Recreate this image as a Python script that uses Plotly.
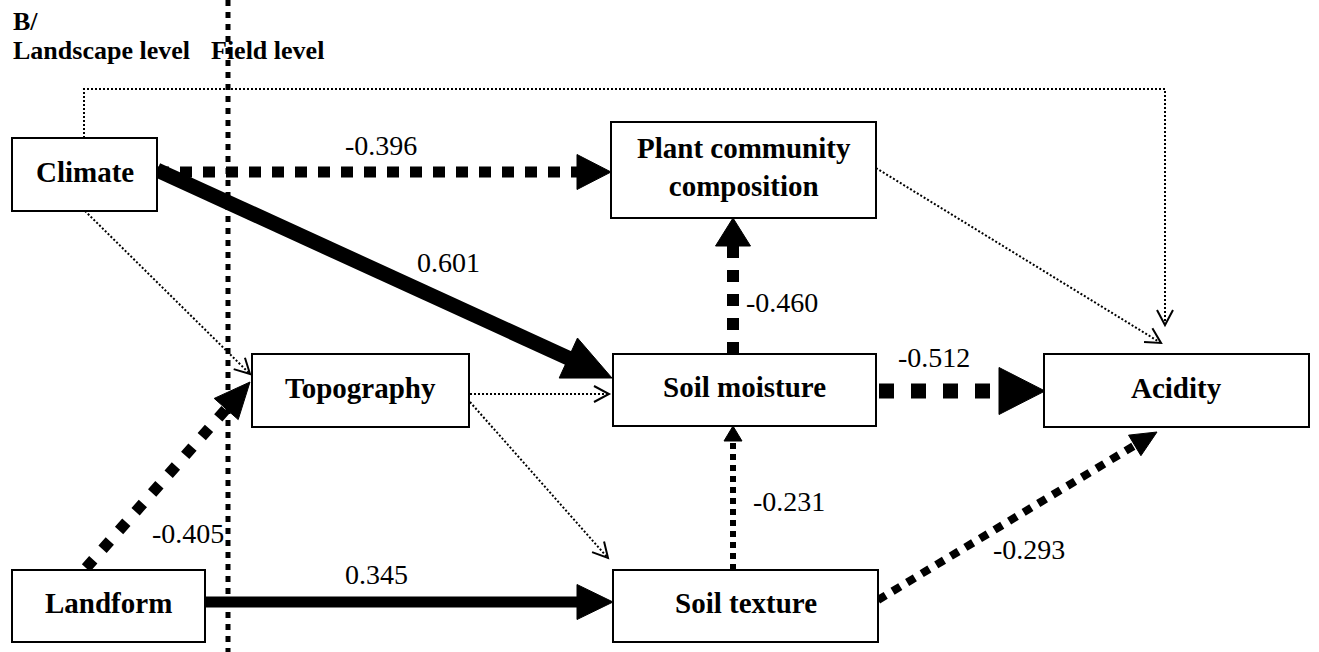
import math
import plotly.graph_objects as go

# ---------------- data ----------------
node_names = ["Climate", "Landform", "Topography", "Plant community<br>composition",
              "Soil moisture", "Soil texture", "Acidity"]
edge_source = ["Climate", "Climate", "Climate", "Climate", "Landform", "Landform",
               "Topography", "Topography", "Plant community<br>composition",
               "Soil moisture", "Soil moisture", "Soil texture", "Soil texture"]
edge_target = ["Plant community<br>composition", "Soil moisture", "Topography", "Acidity",
               "Topography", "Soil texture", "Soil moisture", "Soil texture", "Acidity",
               "Plant community<br>composition", "Acidity", "Soil moisture", "Acidity"]
edge_coef = ["-0.396", "0.601", None, None, "-0.405", "0.345", None, None, None,
             "-0.460", "-0.512", "-0.231", "-0.293"]
header_labels = ["B/", "Landscape level", "Field level"]

# ---------------- layout geometry (pixel space) ----------------
W, H = 1319, 652
FONT = "Liberation Serif"
box_geom = {
    "Climate": (12, 138, 157, 211),
    "Landform": (12, 570, 205, 642),
    "Topography": (252, 354, 469, 427),
    "Plant community<br>composition": (611, 122, 876, 218),
    "Soil moisture": (613, 354, 876, 426),
    "Soil texture": (613, 570, 878, 642),
    "Acidity": (1044, 354, 1309, 427),
}
# per-edge path, line style, head style, label position
edge_geom = [
    dict(pts=[(157, 172), (611, 172)], w=11, dash="12px,11px", head="fill", hl=34, hw=35, lab=(381, 145)),
    dict(pts=[(157, 170), (612, 378)], w=15, dash="solid", head="fill", hl=48, hw=44, lab=(448, 262)),
    dict(pts=[(85, 211), (250, 374)], w=2, dash="2px,2px", head="open", hl=15, hw=16, lab=None),
    dict(pts=[(84, 138), (84, 89), (1165, 89), (1165, 325)], w=2, dash="2px,2px", head="open", hl=15, hw=16, lab=None),
    dict(pts=[(86, 568), (250, 382)], w=11, dash="11px,14px", head="fill", hl=36, hw=32, lab=(188, 533)),
    dict(pts=[(205, 602), (613, 602)], w=11, dash="solid", head="fill", hl=36, hw=35, lab=(376, 574)),
    dict(pts=[(470, 394), (609, 394)], w=2, dash="2px,2px", head="open", hl=15, hw=16, lab=None),
    dict(pts=[(470, 402), (608, 558)], w=2, dash="2px,2px", head="open", hl=15, hw=16, lab=None),
    dict(pts=[(876, 168), (1161, 343)], w=2, dash="2px,2px", head="open", hl=15, hw=16, lab=None),
    dict(pts=[(733, 354), (733, 218)], w=12, dash="12px,12px", head="fill", hl=28, hw=35, lab=(782, 302)),
    dict(pts=[(879, 391), (1045, 391)], w=15, dash="15px,17px", head="fill", hl=46, hw=47, lab=(934, 357)),
    dict(pts=[(733, 570), (733, 426)], w=6, dash="6px,5px", head="fill", hl=15, hw=18, lab=(789, 501)),
    dict(pts=[(878, 600), (1157, 432)], w=8, dash="9px,8px", head="fill", hl=26, hw=24, lab=(1029, 549)),
]
header_geom = [(11, 21, 26), (11, 50, 26), (209, 50, 26)]  # x, y, size
separator_x = 228

fig = go.Figure()
shapes = []
annotations = []

# level separator
shapes.append(dict(type="line", x0=separator_x, x1=separator_x, y0=0, y1=H, xref="x", yref="y",
                   line=dict(color="black", width=5, dash="6px,6px")))


def path_str(points, close=False):
    s = "M " + " L ".join(f"{x:.2f},{y:.2f}" for x, y in points)
    return s + (" Z" if close else "")


for src, tgt, coef, g in zip(edge_source, edge_target, edge_coef, edge_geom):
    pts = list(g["pts"])
    (x1, y1), (x2, y2) = pts[-2], pts[-1]
    L = math.hypot(x2 - x1, y2 - y1)
    ux, uy = (x2 - x1) / L, (y2 - y1) / L
    px, py = -uy, ux
    hl, hw = g["hl"], g["hw"]
    bx, by = x2 - ux * hl, y2 - uy * hl
    line_pts = pts[:-1] + ([(bx + ux * 1, by + uy * 1)] if g["head"] == "fill" else [(x2, y2)])
    shapes.append(dict(type="path", path=path_str(line_pts), xref="x", yref="y",
                       line=dict(color="black", width=g["w"], dash=g["dash"])))
    if g["head"] == "fill":
        tri = [(x2, y2), (bx + px * hw / 2, by + py * hw / 2), (bx - px * hw / 2, by - py * hw / 2)]
        shapes.append(dict(type="path", path=path_str(tri, True), xref="x", yref="y",
                           fillcolor="black", line=dict(color="black", width=1)))
    else:
        v = [(bx + px * hw / 2, by + py * hw / 2), (x2, y2), (bx - px * hw / 2, by - py * hw / 2)]
        shapes.append(dict(type="path", path=path_str(v), xref="x", yref="y",
                           line=dict(color="black", width=2)))
    if coef is not None:
        lx, ly = g["lab"]
        annotations.append(dict(x=lx, y=ly, xref="x", yref="y", text=coef, showarrow=False,
                                xanchor="center", yanchor="middle",
                                font=dict(family=FONT, size=28, color="black")))

# boxes
for name in node_names:
    x0, y0, x1, y1 = box_geom[name]
    shapes.append(dict(type="rect", x0=x0, y0=y0, x1=x1, y1=y1, xref="x", yref="y",
                       fillcolor="white", line=dict(color="black", width=2)))
    annotations.append(dict(x=(x0 + x1) / 2, y=(y0 + y1) / 2 - 3, xref="x", yref="y",
                            text=f"<b>{name}</b>", showarrow=False, xanchor="center",
                            yanchor="middle", font=dict(family=FONT, size=29, color="black")))

# headers
for txt, (hx, hy, hs) in zip(header_labels, header_geom):
    annotations.append(dict(x=hx, y=hy, xref="x", yref="y", text=f"<b>{txt}</b>", showarrow=False,
                            xanchor="left", yanchor="middle",
                            font=dict(family=FONT, size=hs, color="black")))

fig.update_layout(
    width=W, height=H, margin=dict(l=0, r=0, t=0, b=0),
    paper_bgcolor="white", plot_bgcolor="white",
    xaxis=dict(range=[0, W], visible=False, fixedrange=True),
    yaxis=dict(range=[H, 0], visible=False, fixedrange=True),
    shapes=shapes, annotations=annotations, showlegend=False,
)
fig.write_html("out.html", config={"displayModeBar": False},
               post_script="document.body.style.margin='0';document.body.style.overflow='hidden';")
